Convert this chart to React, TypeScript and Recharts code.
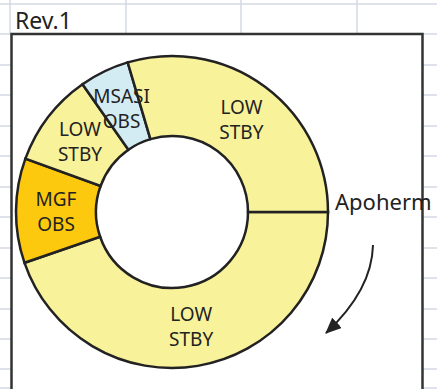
import { PieChart, Pie, Cell } from "recharts";

const MODES = ["LOW STBY", "MGF OBS", "LOW STBY", "MSASI OBS", "LOW STBY"];
const SPANS = [161, 39, 35, 18.5, 106.5];
const FILLS = ["#f8f29b", "#fdc90f", "#f8f29b", "#d3ebf3", "#f8f29b"];

const GRID_ROWS = [4, 34, 65, 95, 126, 156, 187, 217, 248, 278, 309, 339, 369, 388];
const GRID_COLS = [10, 126, 241, 357];

const FONT = "'Noto Sans', 'DejaVu Sans', sans-serif";
const RADIAN = Math.PI / 180;

const data = MODES.map((name, i) => ({ name, value: SPANS[i], fill: FILLS[i] }));

function ModeLabel(props: any) {
  const { cx, cy, midAngle, innerRadius, outerRadius, name } = props;
  const r = (innerRadius + outerRadius) / 2;
  const x = cx + r * Math.cos(-midAngle * RADIAN);
  const y = cy + r * Math.sin(-midAngle * RADIAN);
  const [l1, l2] = String(name).split(" ");
  return (
    <g>
      <text x={x} y={y - 12} textAnchor="middle" dominantBaseline="central" fill="#222" fontSize={19} fontFamily={FONT}>
        {l1}
      </text>
      <text x={x} y={y + 13} textAnchor="middle" dominantBaseline="central" fill="#222" fontSize={19} fontFamily={FONT}>
        {l2}
      </text>
    </g>
  );
}

function Backdrop() {
  return (
    <svg width={437} height={389} style={{ position: "absolute", left: 0, top: 0 }}>
      <rect x={0} y={0} width={437} height={389} fill="#fff" />
      {GRID_ROWS.map((y) => (
        <line key={"r" + y} x1={0} x2={437} y1={y} y2={y} stroke="#d3d8e5" strokeWidth={1.5} />
      ))}
      {GRID_COLS.map((x) => (
        <line key={"c" + x} x1={x} x2={x} y1={0} y2={34} stroke="#d3d8e5" strokeWidth={1.5} />
      ))}
      <rect x={11.5} y={34} width={411} height={360} fill="#fff" stroke="#333" strokeWidth={2.5} />
      <text x={15} y={29} fontSize={23} fill="#222" fontFamily={FONT}>
        Rev.1
      </text>
      <text x={335} y={210} fontSize={22} fill="#222" fontFamily={FONT}>
        Apoherm
      </text>
      <defs>
        <marker id="head" markerUnits="userSpaceOnUse" markerWidth={16} markerHeight={14} refX={15} refY={7} orient="auto">
          <path d="M0,0 L16,7 L0,14 Z" fill="#222" />
        </marker>
      </defs>
      <path d="M373,245 Q372,290 326,333" fill="none" stroke="#222" strokeWidth={2} markerEnd="url(#head)" />
    </svg>
  );
}

export default function App() {
  return (
    <div style={{ position: "absolute", left: 0, top: 0, width: 437, height: 389, overflow: "hidden" }}>
      <Backdrop />
      <div style={{ position: "absolute", left: 0, top: 0 }}>
        <PieChart width={437} height={389} margin={{ top: 0, right: 0, bottom: 0, left: 0 }}>
          <Pie
            data={data}
            dataKey="value"
            nameKey="name"
            cx={172}
            cy={212}
            innerRadius={76}
            outerRadius={156}
            startAngle={0}
            endAngle={-360}
            stroke="#222"
            strokeWidth={2.5}
            label={ModeLabel}
            labelLine={false}
            isAnimationActive={false}
          >
            {data.map((d, i) => (
              <Cell key={i} fill={d.fill} />
            ))}
          </Pie>
        </PieChart>
      </div>
    </div>
  );
}
